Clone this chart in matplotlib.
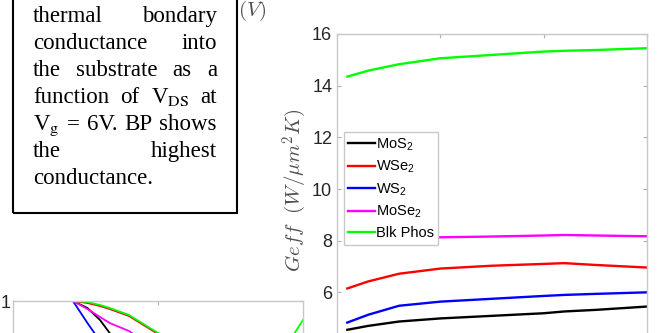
import matplotlib
matplotlib.use('Agg')
import matplotlib.pyplot as plt
from matplotlib.patches import Rectangle

plt.rcParams['font.family'] = ['Liberation Sans', 'DejaVu Sans']
plt.rcParams['mathtext.fontset'] = 'custom'
plt.rcParams['mathtext.rm'] = 'Liberation Sans'
plt.rcParams['mathtext.it'] = 'Liberation Sans:italic'

W, H = 661, 333

# main chart: Geff vs V_DS
vds = [0.1, 0.3, 0.6, 1.0, 1.5, 2.0, 2.2, 2.5, 3.0]
mos2 = [4.55, 4.70, 4.87, 4.99, 5.09, 5.19, 5.26, 5.32, 5.45]
wse2 = [6.15, 6.42, 6.72, 6.92, 7.03, 7.10, 7.13, 7.06, 6.96]
ws2 = [4.83, 5.13, 5.48, 5.64, 5.75, 5.86, 5.90, 5.94, 6.00]
mose2 = [7.95, 8.05, 8.10, 8.13, 8.16, 8.20, 8.22, 8.20, 8.17]
bp = [14.35, 14.58, 14.83, 15.06, 15.19, 15.32, 15.35, 15.38, 15.45]

names = ['MoS$_2$', 'WSe$_2$', 'WS$_2$', 'MoSe$_2$', 'Blk Phos']
colors = ['k', (1, 0, 0), (0, 0, 1), (1, 0, 1), (0, 1, 0)]

# partial chart at lower left
x2 = [0.3, 0.62, 0.77, 0.9, 1.0, 1.2, 1.5, 2.0, 2.5, 2.9, 3.0]
green2 = [1, 1, 0.995, 0.98, 0.965, 0.93, 0.84, 0.70, 0.72, 0.83, 0.905]
red2 = [1, 1, 0.99, 0.975, 0.96, 0.925, 0.835, 0.65, 0.55, 0.5, 0.5]
mag2 = [1, 1, 0.96, 0.92, 0.89, 0.85, 0.75, 0.6, 0.5, 0.45, 0.45]
black2 = [1, 1, 0.965, 0.905, 0.84, 0.72, 0.6, 0.5, 0.4, 0.35, 0.35]
blue2 = [1, 1, 0.89, 0.80, 0.72, 0.6, 0.5, 0.4, 0.3, 0.3, 0.3]

lines = [["thermal", "bondary"],
         ["conductance", "into"],
         ["the", "substrate", "as", "a"],
         ["function", "of", r"V$_{\rm DS}$", "at"],
         [r"V$_{\rm g}$", "=", "6V.", "BP", "shows"],
         ["the", "highest"],
         ["conductance."]]


def box(l, t, r, b):
    # pixel box -> figure fraction [left, bottom, width, height]
    return [l / W, 1 - b / H, (r - l) / W, (b - t) / H]


def style_axes(ax):
    for s in ax.spines.values():
        s.set_color('#c8c8c8')
        s.set_linewidth(1.0)
    ax.tick_params(direction='in', length=3, color='#b0b0b0', top=True, right=True,
                   labelcolor='#262626', labelsize=13)


fig = plt.figure(figsize=(W / 100, H / 100), dpi=100)

ax = fig.add_axes(box(337, 34, 647, 344))
for y, c, n in zip([mos2, wse2, ws2, mose2, bp], colors, names):
    ax.plot(vds, y, color=c, lw=1.7, label=n)
ax.set_xlim(0, 3)
ax.set_ylim(4, 16)
ax.set_xticks([0, 1, 2, 3])
ax.set_yticks([6, 8, 10, 12, 14, 16])
ax.set_xticklabels([])
style_axes(ax)
leg = ax.legend(loc='upper left', bbox_to_anchor=(344 / W, 1 - 132 / H),
                bbox_transform=fig.transFigure, fontsize=10.5, handlelength=1.8,
                handletextpad=0.1, borderpad=0.3, labelspacing=0.42,
                borderaxespad=0, fancybox=False, framealpha=1)
leg.get_frame().set_edgecolor('#c8c8c8')
leg.get_frame().set_linewidth(1.0)

fig.text(295 / W, 1 - 190 / H, r"$Geff\ \ (W/\mu m^2K)$", rotation=90, ha='center',
         va='center', fontsize=15, color='#505050', math_fontfamily='cm')

ax2 = fig.add_axes(box(13, 301, 303, 501))
for y, c in zip([black2, red2, blue2, mag2, green2], colors):
    ax2.plot(x2, y, color=c, lw=1.3)
ax2.set_xlim(0, 3)
ax2.set_ylim(0, 1)
ax2.set_xticks([1.5])
ax2.set_xticklabels([])
ax2.set_yticks([1])
ax2.set_yticklabels(['1'])
style_axes(ax2)
ax2.tick_params(axis='y', pad=1.5)

fig.text(252 / W, 1 - 11 / H, r"$(V)$", ha='center', va='center', fontsize=15,
         color='#505050', math_fontfamily='cm')

# caption box with justified text
fig.patches.append(Rectangle((13 / W, 1 - 213 / H), 224 / W, 230 / H, fill=False,
                             edgecolor='black', lw=1.5, transform=fig.transFigure))
fig.canvas.draw()
rend = fig.canvas.get_renderer()
x0, x1 = 33, 217
for i, words in enumerate(lines):
    yb = 1 - (22 + 27 * i) / H
    texts = [fig.text(0, yb, w, fontsize=16.5, family='Liberation Serif', va='baseline',
                      math_fontfamily='stix') for w in words]
    widths = [t.get_window_extent(rend).width for t in texts]
    if len(words) > 1 and i < len(lines) - 1:
        gap = (x1 - x0 - sum(widths)) / (len(words) - 1)
    else:
        gap = 4
    x = x0
    for t, w in zip(texts, widths):
        t.set_x(x / W)
        x += w + gap

fig.savefig('out.png', dpi=100)
